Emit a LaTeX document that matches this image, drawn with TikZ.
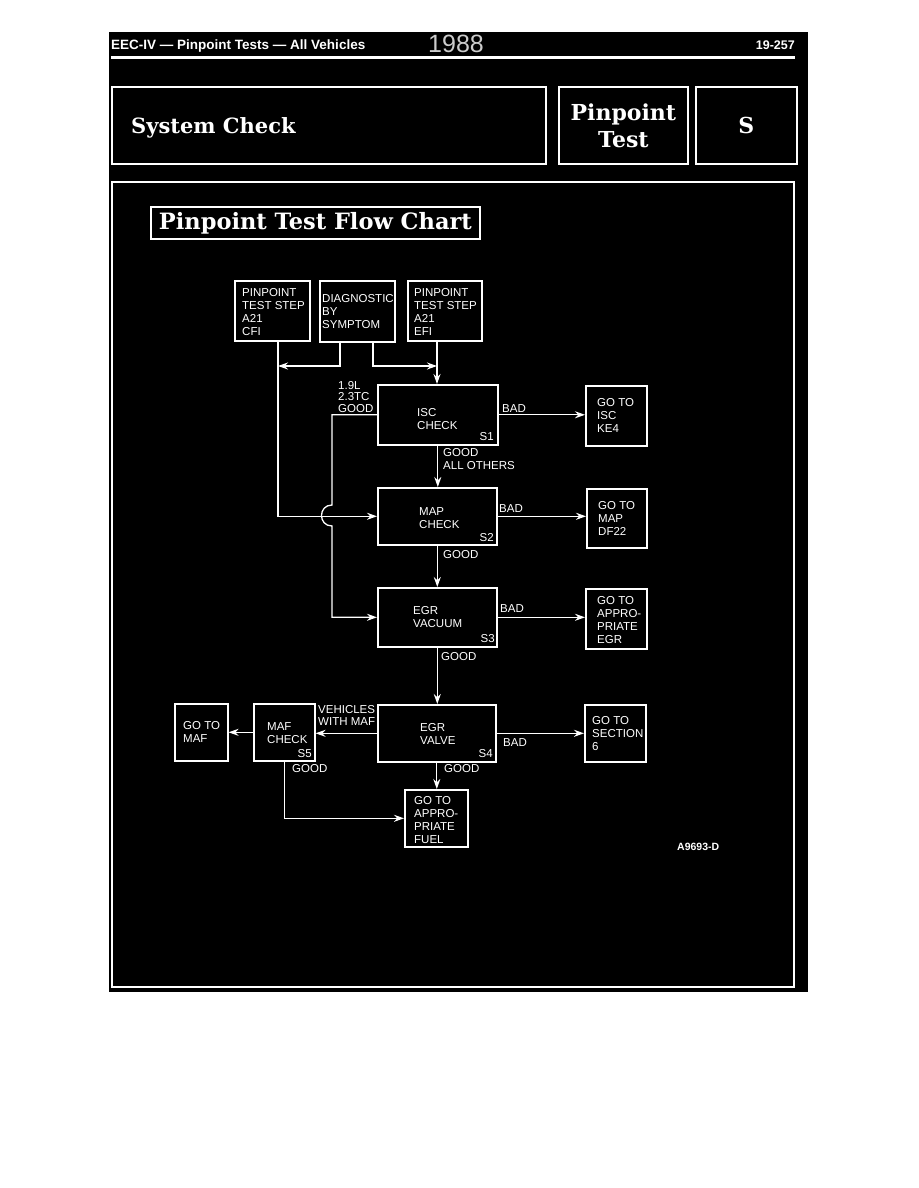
\documentclass[tikz,border=0pt]{standalone}
\usepackage{fontspec}
\setmainfont{Liberation Sans}
\newfontfamily\ttlf{DejaVu Serif}
\usetikzlibrary{arrows.meta}
\begin{document}
\begin{tikzpicture}[x=1pt,y=-1pt,
  fbox/.style={draw=white, line width=1.6pt, inner sep=0pt, anchor=north west},
  tbox/.style={draw=white, line width=1.8pt, inner sep=0pt, anchor=north west, text=white, align=center},
  btxt/.style={text=white, inner sep=0pt, anchor=west, align=left, font=\fontsize{11.5}{13}\selectfont},
  lab/.style={text=white, inner sep=0pt, align=left, font=\fontsize{11.5}{12.5}\selectfont},
  slab/.style={text=white, inner sep=0pt, anchor=base east, font=\fontsize{11.5}{12}\selectfont},
  ttl/.style={font=\ttlf\bfseries\fontsize{22}{27}\selectfont},
  line/.style={draw=white, line width=1.3pt},
  arr/.style={line, -{Stealth[length=10pt,width=7pt]}},
]
\useasboundingbox (0,0) rectangle (918,1188);
\fill[white] (0,0) rectangle (918,1188);
\fill[black] (109,32) rectangle (808,992);

% header
\node[text=white, inner sep=0pt, anchor=base west, font=\bfseries\fontsize{13.5}{14}\selectfont] (hdr) at (111,50) {EEC-IV --- Pinpoint Tests --- All Vehicles};
\node[text=white!80!black, inner sep=0pt, anchor=base west, font=\fontsize{25}{26}\selectfont] (yr) at (428,53) {1988};
\node[text=white, inner sep=0pt, anchor=base east, font=\bfseries\fontsize{12.5}{14}\selectfont] (pg) at (795,50) {19-257};
\draw[white, line width=3pt] (111,57.5) -- (795,57.5);

% top boxes
\node[tbox, minimum width=434, minimum height=77] (sys) at (111,86) {};
\node[text=white, inner sep=0pt, anchor=base west, font=\ttlf\bfseries\fontsize{21}{24}\selectfont] (syst) at (131,134) {System Check};
\node[tbox, minimum width=129, minimum height=77, ttl] (ppt) at (558,86) {Pinpoint\\Test};
\node[tbox, minimum width=101, minimum height=77, ttl] (sbx) at (695,86) {S};

% main frame
\draw[white, line width=1.5pt] (112,182) rectangle (794,987);

% chart title
\node[tbox, minimum width=329, minimum height=32, font=\ttlf\bfseries\fontsize{22.5}{27}\selectfont] (title) at (150,206) {Pinpoint Test Flow Chart};

% flow boxes
\node[fbox, minimum width=75, minimum height=60] (cfi) at (234,280) {};
\node[btxt] (cfit) at ([xshift=8pt,yshift=-1pt]cfi.west) {PINPOINT\\TEST STEP\\A21\\CFI};
\node[fbox, minimum width=75, minimum height=61] (diag) at (319,280) {};
\node[btxt] (diagt) at ([xshift=3pt]diag.west) {DIAGNOSTIC\\BY\\SYMPTOM};
\node[fbox, minimum width=74, minimum height=60] (efi) at (407,280) {};
\node[btxt] (efit) at ([xshift=7pt,yshift=-1pt]efi.west) {PINPOINT\\TEST STEP\\A21\\EFI};

\node[fbox, minimum width=120, minimum height=60] (isc) at (377,384) {};
\node[btxt] (isct) at ([xshift=40pt,yshift=-4pt]isc.west) {ISC\\CHECK};
\node[slab] (s1) at (494,440) {S1};
\node[fbox, minimum width=61, minimum height=60] (gisc) at (585,385) {};
\node[btxt] (gisct) at ([xshift=12pt]gisc.west) {GO TO\\ISC\\KE4};

\node[fbox, minimum width=119, minimum height=57] (map) at (377,487) {};
\node[btxt] (mapt) at ([xshift=42pt,yshift=-2pt]map.west) {MAP\\CHECK};
\node[slab] (s2) at (494,541) {S2};
\node[fbox, minimum width=60, minimum height=59] (gmap) at (586,488) {};
\node[btxt] (gmapt) at ([xshift=12pt]gmap.west) {GO TO\\MAP\\DF22};

\node[fbox, minimum width=119, minimum height=59] (egrv) at (377,587) {};
\node[btxt] (egrvt) at ([xshift=36pt]egrv.west) {EGR\\VACUUM};
\node[slab] (s3) at (495,642) {S3};
\node[fbox, minimum width=61, minimum height=60] (gegr) at (585,588) {};
\node[btxt] (gegrt) at ([xshift=12pt,yshift=-1pt]gegr.west) {GO TO\\APPRO-\\PRIATE\\EGR};

\node[fbox, minimum width=118, minimum height=57] (valve) at (377,704) {};
\node[btxt] (valvet) at ([xshift=43pt,yshift=-1pt]valve.west) {EGR\\VALVE};
\node[slab] (s4) at (493,757) {S4};
\node[fbox, minimum width=61, minimum height=57] (maf) at (253,703) {};
\node[btxt] (maft) at ([xshift=14pt,yshift=-1pt]maf.west) {MAF\\CHECK};
\node[slab] (s5) at (312,757) {S5};
\node[fbox, minimum width=53, minimum height=57] (gmaf) at (174,703) {};
\node[btxt] (gmaft) at ([xshift=9pt]gmaf.west) {GO TO\\MAF};
\node[fbox, minimum width=61, minimum height=57] (gsec) at (584,704) {};
\node[btxt] (gsect) at ([xshift=8pt]gsec.west) {GO TO\\SECTION\\6};
\node[fbox, minimum width=63, minimum height=57] (gfuel) at (404,789) {};
\node[btxt] (gfuelt) at ([xshift=10pt,yshift=-2pt]gfuel.west) {GO TO\\APPRO-\\PRIATE\\FUEL};

% connector labels
\node[lab, anchor=south west, font=\fontsize{11.5}{11.5}\selectfont] (l19) at (338,412.5) {1.9L\\2.3TC\\GOOD};
\node[lab, anchor=south west] (lb1) at (502,412.5) {BAD};
\node[lab, anchor=north west, font=\fontsize{11.5}{13}\selectfont] (lg1) at (443,448.5) {GOOD\\ALL OTHERS};
\node[lab, anchor=south west] (lb2) at (499,512.5) {BAD};
\node[lab, anchor=north west] (lg2) at (443,550) {GOOD};
\node[lab, anchor=south west] (lb3) at (500,613) {BAD};
\node[lab, anchor=north west] (lg3) at (441,652) {GOOD};
\node[lab, anchor=north west, font=\fontsize{11.5}{12}\selectfont] (lveh) at (318,705) {VEHICLES\\WITH MAF};
\node[lab, anchor=north west] (lb4) at (503,738) {BAD};
\node[lab, anchor=north west] (lg4) at (444,764) {GOOD};
\node[lab, anchor=north west] (lg5) at (292,764) {GOOD};
\node[text=white, inner sep=0pt, anchor=base west, font=\bfseries\fontsize{10.5}{12}\selectfont] (code) at (677,850) {A9693-D};

% junction coordinates
\coordinate (jL) at (278,366);
\coordinate (xd1) at (340,366);
\coordinate (xd2) at (373,366);
\coordinate (jR) at (437,366);
\coordinate (hopA) at (332,505);
\coordinate (hopB) at (332,526);
\coordinate (hc1) at (318,505);
\coordinate (hc2) at (318,526);

% connectors
\draw[arr] (cfi.south -| jL) |- (map.west);
\draw[arr] (diag.south -| xd1) -- (xd1) -- (jL);
\draw[arr] (diag.south -| xd2) -- (xd2) -- (jR);
\draw[arr] (efi.south -| jR) -- (jR |- isc.north);
\draw[arr] (isc.east) -- (isc.east -| gisc.west);
\draw[arr] (isc.west) -| (hopA) .. controls (hc1) and (hc2) .. (hopB) |- (egrv.west);
\draw[arr] (isc.south) -- (isc.south |- map.north);
\draw[arr] (map.east) -- (map.east -| gmap.west);
\draw[arr] (map.south) -- (map.south |- egrv.north);
\draw[arr] (egrv.east) -- (egrv.east -| gegr.west);
\draw[arr] (egrv.south) -- (egrv.south |- valve.north);
\draw[arr] (valve.west) -- (valve.west -| maf.east);
\draw[arr] (maf.west) -- (maf.west -| gmaf.east);
\draw[arr] (valve.east) -- (valve.east -| gsec.west);
\draw[arr] (valve.south) -- (valve.south |- gfuel.north);
\draw[arr] (maf.south) |- (gfuel.west);
\end{tikzpicture}
\end{document}
